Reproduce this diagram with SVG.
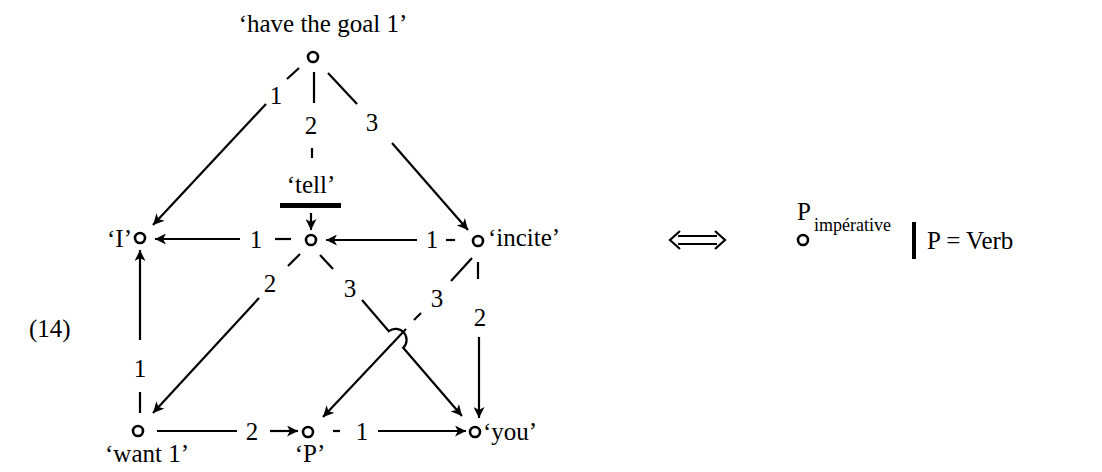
<svg xmlns="http://www.w3.org/2000/svg" width="1102" height="472" viewBox="0 0 1102 472">
<style>
.t{font-family:"Liberation Serif","Times New Roman",serif;font-size:25px;fill:#000}
.s{font-family:"Liberation Serif","Times New Roman",serif;font-size:18px;fill:#000}
.e{stroke:#000;stroke-width:2.2;fill:none}
.n{stroke:#000;stroke-width:2.6;fill:#fff}
</style>
<defs>
<marker id="ah" markerUnits="userSpaceOnUse" markerWidth="12" markerHeight="11" refX="11" refY="5.5" orient="auto">
<path d="M0,0 L11,5.5 L0,11 L3,5.5 z" fill="#000"/>
</marker>
</defs>
<rect width="1102" height="472" fill="#fff"/>
<text class="t" x="29" y="337">(14)</text>
<g id="connectors">
<!-- top -> I (1) -->
<line class="e" x1="299" y1="68" x2="287" y2="79"/>
<text class="t" x="276" y="104" text-anchor="middle">1</text>
<line class="e" x1="266" y1="104" x2="153" y2="225" marker-end="url(#ah)"/>
<!-- top -> tell (2) -->
<line class="e" x1="314" y1="72" x2="314" y2="103"/>
<text class="t" x="311" y="134" text-anchor="middle">2</text>
<line class="e" x1="312" y1="148" x2="312" y2="158"/>
<line class="e" x1="311" y1="213" x2="311" y2="230" marker-end="url(#ah)"/>
<!-- top -> incite (3) -->
<line class="e" x1="328" y1="73" x2="357" y2="104"/>
<text class="t" x="372" y="131" text-anchor="middle">3</text>
<line class="e" x1="392" y1="143" x2="468" y2="230" marker-end="url(#ah)"/>
<!-- tell -> I (1) -->
<line class="e" x1="275" y1="239" x2="291" y2="239"/>
<text class="t" x="256" y="248" text-anchor="middle">1</text>
<line class="e" x1="240" y1="239" x2="155" y2="239" marker-end="url(#ah)"/>
<!-- incite -> tell (1) -->
<line class="e" x1="446" y1="240" x2="455" y2="240"/>
<text class="t" x="432" y="248" text-anchor="middle">1</text>
<line class="e" x1="417" y1="240" x2="326" y2="240" marker-end="url(#ah)"/>
<!-- tell -> want 1 (2) -->
<line class="e" x1="300" y1="254" x2="288" y2="266"/>
<text class="t" x="270" y="292" text-anchor="middle">2</text>
<line class="e" x1="259" y1="298" x2="153" y2="413" marker-end="url(#ah)"/>
<!-- tell -> you (3) with hop -->
<line class="e" x1="320" y1="255" x2="333" y2="269"/>
<text class="t" x="350" y="297" text-anchor="middle">3</text>
<path class="e" d="M362,300 L388.8,331.2 A11,11 0 0 1 403.2,347.8 L462,416" marker-end="url(#ah)"/>
<!-- incite -> P (3) -->
<line class="e" x1="472" y1="258" x2="451" y2="281"/>
<text class="t" x="437" y="307" text-anchor="middle">3</text>
<line class="e" x1="421" y1="313" x2="414" y2="320"/>
<line class="e" x1="406" y1="329" x2="323" y2="417" marker-end="url(#ah)"/>
<!-- incite -> you (2) -->
<line class="e" x1="478" y1="262" x2="478" y2="279"/>
<text class="t" x="480" y="326" text-anchor="middle">2</text>
<line class="e" x1="479" y1="337" x2="479" y2="418" marker-end="url(#ah)"/>
<!-- want 1 -> I (1) -->
<line class="e" x1="140" y1="413" x2="140" y2="392"/>
<text class="t" x="140" y="377" text-anchor="middle">1</text>
<line class="e" x1="140" y1="340" x2="140" y2="250" marker-end="url(#ah)"/>
<!-- want 1 -> P (2) -->
<line class="e" x1="157" y1="431" x2="237" y2="431"/>
<text class="t" x="252" y="440" text-anchor="middle">2</text>
<line class="e" x1="270" y1="431" x2="298" y2="431" marker-end="url(#ah)"/>
<!-- P -> you (1) -->
<line class="e" x1="333" y1="431" x2="340" y2="431"/>
<text class="t" x="362" y="440" text-anchor="middle">1</text>
<line class="e" x1="378" y1="431" x2="466" y2="431" marker-end="url(#ah)"/>
</g>
<g id="node-goal">
<circle class="n" cx="313" cy="57" r="5"/>
<text class="t" x="323" y="32" text-anchor="middle" font-size="26">‘have the goal 1’</text>
</g>
<g id="node-I">
<circle class="n" cx="140" cy="238" r="5"/>
<text class="t" x="132" y="247" text-anchor="end">‘I’</text>
</g>
<g id="node-tell">
<circle class="n" cx="311" cy="240" r="5"/>
<text class="t" x="311" y="193" text-anchor="middle">‘tell’</text>
<rect x="280" y="203" width="61" height="5" fill="#000"/>
</g>
<g id="node-incite">
<circle class="n" cx="478" cy="241" r="5"/>
<text class="t" x="488" y="246">‘incite’</text>
</g>
<g id="node-want">
<circle class="n" cx="138" cy="431" r="5"/>
<text class="t" x="105" y="462">‘want 1’</text>
</g>
<g id="node-P">
<circle class="n" cx="308" cy="432" r="5"/>
<text class="t" x="310" y="462" text-anchor="middle">‘P’</text>
</g>
<g id="node-you">
<circle class="n" cx="475" cy="432" r="5"/>
<text class="t" x="483" y="440">‘you’</text>
</g>
<g id="equiv">
<path class="e" d="M678,236 L717,236 M678,244 L717,244 M680,231 L670,240 L680,249 M715,231 L725,240 L715,249"/>
</g>
<g id="node-Pimp">
<circle class="n" cx="803" cy="240" r="5"/>
<text class="t" x="797" y="220">P</text>
<text class="s" x="814" y="231">impérative</text>
</g>
<g id="constraint">
<rect x="912" y="222" width="4" height="37" fill="#000"/>
<text class="t" x="927" y="249">P = Verb</text>
</g>
</svg>
